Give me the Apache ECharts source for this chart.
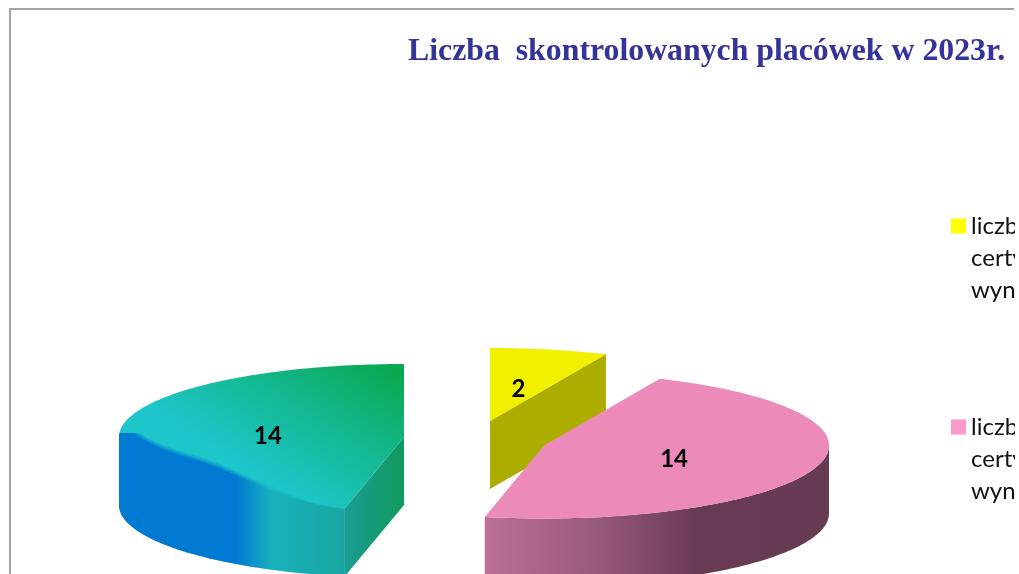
<!DOCTYPE html>
<html><head><meta charset="utf-8">
<style>html,body{margin:0;padding:0;background:#fff;overflow:hidden}#c{width:1019px;height:574px;filter:blur(0.5px)}</style>
<script src="https://cdn.jsdelivr.net/npm/echarts@6/dist/echarts.min.js"></script>
</head><body><div id="c"></div>
<script>
const titleText = 'Liczba  skontrolowanych placówek w 2023r.';
const categories = ['liczba\ncertyfikatów\nwynik pozytywny', 'liczba\ncertyfikatów\nwynik negatywny', 'inne'];
const values = [2, 14, 14];
const markerColors = ['#ffff00', '#ff99cc', '#14b890'];
const centers = [[490, 421], [544, 445.5], [404, 437]];

const RX = 285, RY = 73, DEPTH = 68, LABEL_F = 0.48;
const total = values.reduce((a, b) => a + b, 0);
const pt = (c, deg, dy = 0) => {
  const r = deg * Math.PI / 180;
  return [c[0] + RX * Math.sin(r), c[1] - RY * Math.cos(r) + dy];
};
const arc = (c, a, b, dy = 0) => {
  const out = [], n = Math.max(2, Math.ceil(Math.abs(b - a)));
  for (let i = 0; i <= n; i++) out.push(pt(c, a + (b - a) * i / n, dy));
  return out;
};
const grad = (x, y, x2, y2, stops) => ({
  type: 'linear', global: true, x, y, x2, y2,
  colorStops: stops.map(s => ({ offset: s[0], color: s[1] }))
});
const poly = (points, fill, opacity = 1) => ({
  type: 'polygon', shape: { points }, silent: true, style: { fill, opacity }
});
const smooth = t => { t = Math.max(0, Math.min(1, t)); return t * t * (3 - 2 * t); };

function faces(i, c, a0, a1) {
  if (i === 0) {
    return [
      poly([c, pt(c, a1), pt(c, a1, DEPTH), [c[0], c[1] + DEPTH]], '#adad00'),
      poly([c].concat(arc(c, a0, a1)), '#f0f000')
    ];
  }
  if (i === 1) {
    const wall = arc(c, 90, a1).concat(arc(c, a1, 90, DEPTH));
    return [
      poly(wall, grad(484, 0, 830, 0, [[0, '#bd7097'], [0.32, '#985a7b'], [0.62, '#683b52'], [1, '#663a50']])),
      poly([c].concat(arc(c, a0, a1)), '#ec8aba')
    ];
  }
  const p0 = pt(c, a0);
  const wallFill = grad(118, 0, 345, 0, [[0, '#0079d2'], [0.52, '#0079d2'], [0.68, '#18b2bc'], [1, '#1aa5a2']]);
  const rim = off => arc(c, a0, 270).map((p, j, all) => {
    const t = j / (all.length - 1);
    const b = 27 * smooth(t / 0.45) * (1 - smooth((t - 0.88) / 0.12));
    return [p[0], Math.max(c[1] - 4, p[1] - b - off * Math.min(1, b / 10))];
  });
  const wallAt = off => rim(off).concat(arc(c, 270, a0, DEPTH));
  return [
    poly([c, p0, pt(c, a0, DEPTH), [c[0], c[1] + DEPTH]],
      grad(345, 0, 404, 0, [[0, '#1a9c92'], [1, '#12995f']])),
    poly([c].concat(arc(c, a0, a1)),
      grad(300, 500, 385, 364, [[0, '#1cc6ca'], [0.5, '#14b890'], [1, '#0aa850']])),
    poly(wallAt(4), wallFill, 0.3),
    poly(wallAt(2), wallFill, 0.5),
    poly(wallAt(0), wallFill)
  ];
}

const series = values.map((v, i) => ({
  type: 'custom',
  name: categories[i],
  coordinateSystem: 'none',
  itemStyle: { color: markerColors[i] },
  data: [v],
  silent: true,
  renderItem(params, api) {
    const before = values.slice(0, i).reduce((a, b) => a + b, 0);
    const a0 = before / total * 360;
    const a1 = a0 + api.value(0) / total * 360;
    const c = centers[i];
    const mid = (a0 + a1) / 2 * Math.PI / 180;
    const lx = c[0] + RX * LABEL_F * Math.sin(mid);
    const ly = c[1] - RY * LABEL_F * Math.cos(mid) + 3;
    return {
      type: 'group',
      children: faces(i, c, a0, a1).concat([{
        type: 'text', silent: true, z2: 10,
        style: {
          x: lx, y: ly, text: String(api.value(0)), align: 'center', verticalAlign: 'middle',
          font: 'bold 24px Lato', fill: '#000'
        }
      }])
    };
  }
}));

const chart = echarts.init(document.getElementById('c'), null, { renderer: 'canvas' });
chart.setOption({
  animation: false,
  backgroundColor: '#fff',
  title: {
    text: titleText, left: 403, top: 31,
    textStyle: { fontFamily: 'Liberation Serif', fontWeight: 'bold', fontSize: 31.8, color: '#333399' }
  },
  legend: {
    data: categories.slice(0, 2),
    orient: 'vertical', left: 951, top: 146, padding: 0, itemGap: 41,
    itemWidth: 15, itemHeight: 15, icon: 'rect', selectedMode: false,
    formatter: name => '\n\n' + name,
    textStyle: { fontFamily: 'Lato', fontSize: 24, lineHeight: 32, color: '#111' }
  },
  graphic: [
    { type: 'polyline', silent: true, z: 0,
      shape: { points: [[10, 574], [10, 9], [1014, 9]] },
      style: { stroke: '#a3a3a3', lineWidth: 2, fill: null } },
    { type: 'rect', silent: true, z: 100,
      shape: { x: 1015, y: 0, width: 4, height: 574 },
      style: { fill: '#fff' } }
  ],
  series
});
</script></body></html>
